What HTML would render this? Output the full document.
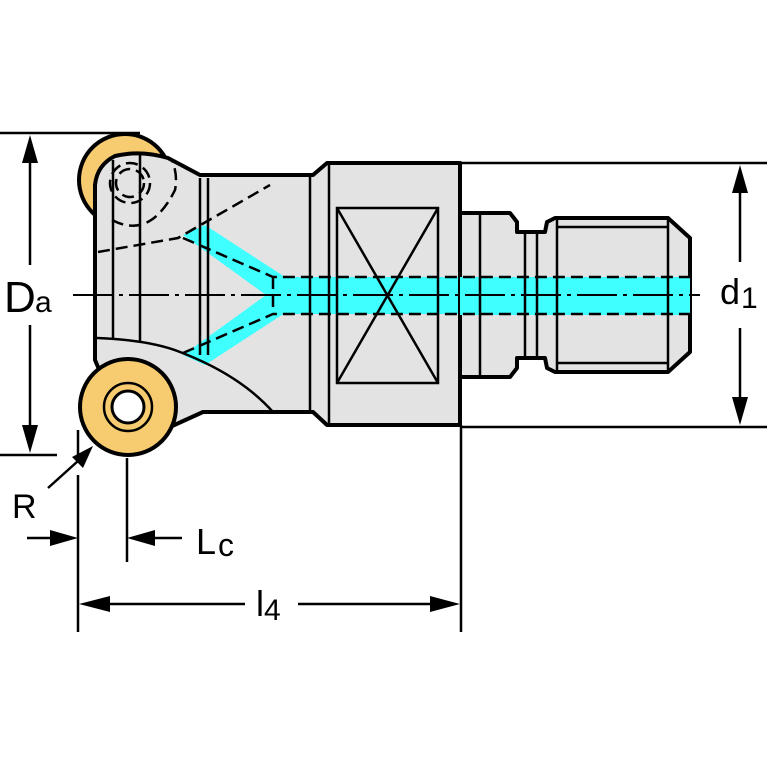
<!DOCTYPE html>
<html><head><style>html,body{margin:0;padding:0;background:#fff}svg{display:block}</style></head>
<body>
<svg width="767" height="767" viewBox="0 0 767 767" xmlns="http://www.w3.org/2000/svg" font-family="Liberation Sans, sans-serif">
<rect width="767" height="767" fill="#fff"/>
<circle cx="125" cy="180" r="46" fill="#f7cc70" stroke="#000" stroke-width="4"/>
<path d="M95,215 L95,360 L110,395 L170,427 L203,412 L313,412 L327,425 L460,425 L460,163 L327,163 L313,175 L200,175 L168,158 Q140,150 115,156 Q97,165 95,185 Z" fill="#e3e3e3" stroke="#000" stroke-width="4" stroke-linejoin="round"/>
<g fill="#40ffff">
<rect x="273" y="277" width="417" height="37"/>
<polygon points="183,235 205,225 285,277 273,300"/>
<polygon points="183,355 205,365 285,313 273,290"/>
</g>
<path d="M460,213 L510,213 L517,222 L517,232 L545,232 L547,222 L555,218 L668,218 L690,238 L690,352 L668,372 L555,372 L547,368 L545,358 L517,358 L517,368 L510,377 L460,377 Z" fill="#e3e3e3" stroke="#000" stroke-width="4" stroke-linejoin="round"/>
<rect x="460" y="277" width="230" height="38" fill="#40ffff"/>
<g stroke="#000" stroke-width="2.5" fill="none">
<line x1="480" y1="213" x2="480" y2="377"/>
<line x1="525" y1="232" x2="525" y2="358"/>
<line x1="537" y1="232" x2="537" y2="358"/>
<line x1="557" y1="218" x2="557" y2="372"/>
<line x1="668" y1="218" x2="668" y2="372"/>
<line x1="557" y1="227" x2="668" y2="227"/>
<line x1="557" y1="363" x2="668" y2="363"/>
</g>
<g stroke="#000" stroke-width="2.5" fill="none">
<line x1="113" y1="160" x2="113" y2="340"/>
<line x1="140" y1="155" x2="140" y2="342"/>
<line x1="200" y1="178" x2="200" y2="355"/>
<line x1="208" y1="178" x2="208" y2="355"/>
<line x1="310" y1="175" x2="310" y2="412"/>
<line x1="329" y1="163" x2="329" y2="425"/>
<path d="M97,338 Q150,340 180,352 Q240,375 273,412"/>
<rect x="337" y="208" width="101" height="175"/>
<line x1="337" y1="208" x2="438" y2="383"/>
<line x1="438" y1="208" x2="337" y2="383"/>
</g>
<g stroke="#000" stroke-width="2.5" fill="none" stroke-dasharray="12,6">
<circle cx="130" cy="183" r="20"/>
<circle cx="130" cy="183" r="14"/>
<path d="M112,220 Q150,240 175,190 Q178,175 172,160"/>
<path d="M98,252 L178,238 L270,185"/>
<path d="M183,238 L273,277 L690,277"/>
<path d="M183,353 L273,314 L690,314"/>
<line x1="273" y1="277" x2="273" y2="314"/>
</g>
<line x1="73" y1="295" x2="700" y2="295" stroke="#000" stroke-width="2" stroke-dasharray="40,6,4,6"/>
<circle cx="128" cy="407" r="48" fill="#f7cc70" stroke="#000" stroke-width="4"/>
<circle cx="128" cy="407" r="24" fill="none" stroke="#000" stroke-width="2.5"/>
<circle cx="128" cy="407" r="16" fill="#fff" stroke="#000" stroke-width="3"/>
<g stroke="#000" stroke-width="2.5" fill="none">
<line x1="0" y1="133" x2="140" y2="133"/>
<line x1="0" y1="455" x2="57" y2="455"/>
<line x1="30" y1="140" x2="30" y2="265"/>
<line x1="30" y1="325" x2="30" y2="448"/>
<line x1="460" y1="163" x2="767" y2="163"/>
<line x1="460" y1="427" x2="767" y2="427"/>
<line x1="740" y1="170" x2="740" y2="262"/>
<line x1="740" y1="328" x2="740" y2="420"/>
<line x1="461" y1="425" x2="461" y2="632"/>
<line x1="78" y1="430" x2="78" y2="462"/>
<line x1="78" y1="475" x2="78" y2="632"/>
<line x1="127" y1="458" x2="127" y2="562"/>
<line x1="48" y1="488" x2="88" y2="452"/>
<line x1="27" y1="538" x2="70" y2="538"/>
<line x1="135" y1="538" x2="182" y2="538"/>
<line x1="86" y1="604" x2="245" y2="604"/>
<line x1="298" y1="604" x2="453" y2="604"/>
</g>
<g fill="#000">
<polygon points="30,135 22,163 38,163"/>
<polygon points="30,453 22,425 38,425"/>
<polygon points="740,165 732,193 748,193"/>
<polygon points="740,425 732,397 748,397"/>
<polygon points="93,446 72,457 83,468"/>
<polygon points="78,538 50,530 50,546"/>
<polygon points="127,538 155,530 155,546"/>
<polygon points="79,604 110,596 110,612"/>
<polygon points="460,604 430,596 430,612"/>
</g>
<g fill="#000">
<text x="4" y="312" font-size="44">D</text><text x="35" y="312" font-size="30">a</text>
<text x="720" y="304" font-size="36">d</text><text x="741" y="308" font-size="30">1</text>
<text x="12" y="518" font-size="34">R</text>
<text x="196" y="554" font-size="36">L</text><text x="218" y="556" font-size="32">c</text>
<text x="256" y="616" font-size="36">l</text><text x="264" y="620" font-size="30">4</text>
</g>
</svg>
</body></html>
